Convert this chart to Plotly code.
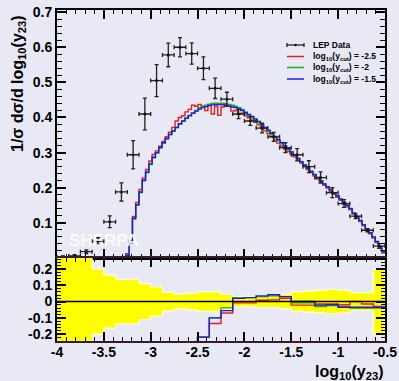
import numpy as np
import plotly.graph_objects as go

# ---------------- data ----------------
x_lo, x_hi = -4.0, -0.5
n_fine = 100
n_data = 28

data_x = [-3.9375, -3.8125, -3.6875, -3.5625, -3.4375, -3.3125, -3.1875, -3.0625,
          -2.9375, -2.8125, -2.6875, -2.5625, -2.4375, -2.3125, -2.1875, -2.0625,
          -1.9375, -1.8125, -1.6875, -1.5625, -1.4375, -1.3125, -1.1875, -1.0625,
          -0.9375, -0.8125, -0.6875, -0.5625]
data_y = [0.003, 0.006, 0.018, 0.048, 0.103, 0.188, 0.294, 0.410,
          0.505, 0.578, 0.600, 0.582, 0.540, 0.483, 0.452, 0.410,
          0.390, 0.370, 0.345, 0.314, 0.294, 0.260, 0.229, 0.186,
          0.155, 0.119, 0.079, 0.034]
data_err = [0.0027, 0.0036, 0.0054, 0.0096, 0.0168, 0.0258, 0.0403, 0.0451,
            0.0455, 0.0335, 0.0276, 0.0303, 0.0324, 0.0290, 0.0199, 0.0131,
            0.0125, 0.0137, 0.0128, 0.0141, 0.0176, 0.0169, 0.0160, 0.0140,
            0.0109, 0.0065, 0.0043, 0.0068]

mc_blue = [0, 0, 0, 0, 0, 0, 0, 0, 0, 0,
           0, 0, 0, 0, 0, 0, 0, 0, 0.001, 0.001,
           0.002, 0.008, 0.045, 0.113, 0.152, 0.188, 0.222, 0.245, 0.268, 0.287,
           0.300, 0.315, 0.328, 0.340, 0.352, 0.362, 0.372, 0.382, 0.390, 0.398,
           0.405, 0.412, 0.418, 0.424, 0.428, 0.431, 0.434, 0.436, 0.437, 0.436,
           0.437, 0.434, 0.432, 0.430, 0.428, 0.424, 0.420, 0.415, 0.409, 0.403,
           0.396, 0.389, 0.381, 0.372, 0.364, 0.355, 0.346, 0.337, 0.329, 0.320,
           0.311, 0.302, 0.293, 0.284, 0.274, 0.265, 0.256, 0.247, 0.238, 0.229,
           0.220, 0.211, 0.203, 0.194, 0.185, 0.177, 0.168, 0.159, 0.150, 0.141,
           0.128, 0.118, 0.107, 0.095, 0.083, 0.072, 0.060, 0.047, 0.033, 0.018]
mc_green = [0, 0, 0, 0, 0, 0, 0, 0, 0, 0,
            0, 0, 0, 0, 0, 0, 0, 0, 0.001, 0.001,
            0.002, 0.007, 0.043, 0.111, 0.150, 0.186, 0.220, 0.243, 0.266, 0.285,
            0.299, 0.313, 0.327, 0.339, 0.351, 0.361, 0.371, 0.381, 0.390, 0.398,
            0.406, 0.413, 0.420, 0.428, 0.432, 0.435, 0.438, 0.440, 0.441, 0.440,
            0.441, 0.439, 0.437, 0.435, 0.432, 0.428, 0.423, 0.411, 0.405, 0.399,
            0.392, 0.385, 0.377, 0.369, 0.360, 0.351, 0.343, 0.334, 0.326, 0.317,
            0.309, 0.301, 0.292, 0.283, 0.273, 0.264, 0.255, 0.246, 0.237, 0.228,
            0.219, 0.210, 0.202, 0.193, 0.184, 0.176, 0.167, 0.158, 0.149, 0.140,
            0.127, 0.117, 0.106, 0.094, 0.082, 0.071, 0.059, 0.046, 0.032, 0.017]
mc_red = [0, 0, 0, 0, 0, 0, 0, 0, 0.002, 0.002,
          0.003, 0.003, 0.003, 0.003, 0.003, 0.003, 0.003, 0.003, 0.003, 0.003,
          0.004, 0.012, 0.050, 0.118, 0.158, 0.195, 0.228, 0.252, 0.276, 0.295,
          0.305, 0.318, 0.332, 0.345, 0.358, 0.372, 0.390, 0.400, 0.405, 0.416,
          0.423, 0.435, 0.432, 0.437, 0.432, 0.420, 0.435, 0.410, 0.432, 0.406,
          0.430, 0.437, 0.432, 0.418, 0.420, 0.410, 0.412, 0.405, 0.399, 0.393,
          0.386, 0.379, 0.371, 0.362, 0.354, 0.345, 0.336, 0.327, 0.319, 0.310,
          0.303, 0.296, 0.288, 0.279, 0.270, 0.261, 0.252, 0.243, 0.234, 0.225,
          0.216, 0.207, 0.199, 0.190, 0.181, 0.173, 0.164, 0.155, 0.146, 0.137,
          0.125, 0.115, 0.104, 0.092, 0.080, 0.069, 0.057, 0.044, 0.030, 0.015]

# ratio (MC/data - 1) per data bin
ratio_blue = [-1, -1, -1, -1, -1, -0.9, -0.8, -0.6, -0.5, -0.4, -0.35, -0.3,
              -0.218, -0.100, -0.056, 0.020, 0.024, 0.035, 0.042, 0.030,
              0.000, 0.000, -0.022, -0.020, -0.035, -0.035, -0.035, -0.035]
ratio_green = [-1, -1, -1, -1, -1, -0.9, -0.8, -0.6, -0.5, -0.4, -0.35, -0.3,
               -0.218, -0.100, -0.039, 0.020, 0.024, 0.030, 0.035, 0.030,
               -0.008, -0.008, -0.030, -0.025, -0.030, -0.040, -0.040, -0.040]
ratio_red = [-1, -1, -1, -1, -1, -0.9, -0.8, -0.6, -0.5, -0.4, -0.35, -0.3,
             -0.218, -0.135, -0.070, -0.008, -0.008, 0.008, 0.010, 0.020,
             -0.022, -0.022, -0.015, -0.015, -0.020, 0.000, -0.015, -0.030]

x_ticks = [-4, -3.5, -3, -2.5, -2, -1.5, -1, -0.5]
x_ticklabels = ["-4", "-3.5", "-3", "-2.5", "-2", "-1.5", "-1", "-0.5"]
y_ticks = [0.1, 0.2, 0.3, 0.4, 0.5, 0.6, 0.7]
y_ticklabels = ["0.1", "0.2", "0.3", "0.4", "0.5", "0.6", "0.7"]
r_ticks = [-0.2, -0.1, 0, 0.1, 0.2]
r_ticklabels = ["-0.2", "-0.1", "0", "0.1", "0.2"]

legend_labels = ["LEP Data",
                 "log<sub>10</sub>(y<sub>cut</sub>) = -2.5",
                 "log<sub>10</sub>(y<sub>cut</sub>) = -2",
                 "log<sub>10</sub>(y<sub>cut</sub>) = -1.5"]
RED, GREEN, BLUE = "#ee1c1c", "#22a822", "#1c1ce6"
BG = "#e9e9f5"

# ---------------- figure ----------------
fine_edges = np.linspace(x_lo, x_hi, n_fine + 1)
data_edges = np.linspace(x_lo, x_hi, n_data + 1)
half_w = (x_hi - x_lo) / n_data / 2

fig = go.Figure()

def step(edges, vals):
    return list(edges), list(vals) + [vals[-1]]

for vals, col in [(mc_red, RED), (mc_green, GREEN), (mc_blue, BLUE)]:
    sx, sy = step(fine_edges, vals)
    fig.add_trace(go.Scatter(x=sx, y=sy, mode="lines", line=dict(color=col, width=1.4, shape="hv"),
                             xaxis="x", yaxis="y", showlegend=False, hoverinfo="skip"))

fig.add_trace(go.Scatter(x=data_x, y=data_y, mode="markers",
                         marker=dict(color="#111", size=3),
                         error_y=dict(type="data", array=data_err, color="#222", thickness=1.3, width=2),
                         error_x=dict(type="constant", value=half_w, color="#222", thickness=1.3, width=2),
                         xaxis="x", yaxis="y", showlegend=False))

# ratio band
rel = [e / v for e, v in zip(data_err, data_y)]
bx, bu, bl = [], [], []
for i in range(n_data):
    bx += [data_edges[i], data_edges[i + 1]]
    bu += [rel[i], rel[i]]
    bl += [-rel[i], -rel[i]]
fig.add_trace(go.Scatter(x=bx + bx[::-1], y=bu + bl[::-1], fill="toself", fillcolor="#ffff00",
                         mode="lines", line=dict(color="white", width=1),
                         xaxis="x2", yaxis="y2", showlegend=False, hoverinfo="skip"))

for vals, col in [(ratio_red, RED), (ratio_green, GREEN), (ratio_blue, BLUE)]:
    sx, sy = step(data_edges, vals)
    fig.add_trace(go.Scatter(x=sx, y=sy, mode="lines", line=dict(color=col, width=1.4, shape="hv"),
                             xaxis="x2", yaxis="y2", showlegend=False, hoverinfo="skip"))

tf = dict(family="Liberation Sans", size=14, color="black", weight="bold")
ax_common = dict(showline=True, linecolor="black", linewidth=2, ticks="inside",
                 tickcolor="black", tickwidth=1.5, mirror="allticks", showgrid=False,
                 zeroline=False, tickfont=tf)

split = 83 / 331
fig.update_layout(
    width=399, height=381,
    margin=dict(l=57, r=14, t=10, b=40, autoexpand=False),
    paper_bgcolor=BG, plot_bgcolor=BG,
    xaxis=dict(domain=[0, 1], anchor="y", range=[x_lo, x_hi], tickvals=x_ticks,
               showticklabels=False, ticklen=9,
               minor=dict(dtick=0.1, tick0=-4, ticklen=4, ticks="inside", tickcolor="black", tickwidth=1.2),
               **ax_common),
    yaxis=dict(domain=[split, 1], anchor="x", range=[0, 0.706], tickvals=y_ticks,
               ticktext=y_ticklabels, ticklen=9,
               minor=dict(dtick=0.02, tick0=0, ticklen=5, ticks="inside", tickcolor="black", tickwidth=1.2),
               **ax_common),
    xaxis2=dict(domain=[0, 1], anchor="y2", range=[x_lo, x_hi], tickvals=x_ticks,
                ticktext=x_ticklabels, ticklen=9, ticklabelstandoff=-3,
                minor=dict(dtick=0.1, tick0=-4, ticklen=4, ticks="inside", tickcolor="black", tickwidth=1.2),
                **{**ax_common, "linecolor": "#3a1a30"}),
    yaxis2=dict(domain=[0, split], anchor="x2", range=[-0.242, 0.267], tickvals=r_ticks,
                ticktext=r_ticklabels, ticklen=9,
                minor=dict(dtick=0.02, tick0=0, ticklen=4, ticks="inside", tickcolor="black", tickwidth=1.2),
                **ax_common),
)

# zero line in ratio panel
fig.add_shape(type="line", xref="x2", yref="y2", x0=x_lo, x1=x_hi, y0=0, y1=0,
              line=dict(color="black", width=1.5))

# titles
fig.add_annotation(text="1/σ dσ/d log<sub>10</sub>(y<sub>23</sub>)", textangle=-90,
                   xref="paper", yref="paper", x=(18 - 57) / 328, y=(341 - 84) / 331,
                   showarrow=False, xanchor="center", yanchor="middle",
                   font=dict(family="Liberation Sans", size=16, color="black", weight="bold"))
fig.add_annotation(text="log<sub>10</sub>(y<sub>23</sub>)", xref="paper", yref="paper",
                   x=1.0, y=-(31 / 331), showarrow=False, xanchor="right", yanchor="middle",
                   font=dict(family="Liberation Sans", size=16, color="black", weight="bold"))

# watermark
fig.add_annotation(text="SHERPA", xref="paper", yref="paper", x=(67 - 57) / 328, y=(341 - 240) / 331,
                   showarrow=False, xanchor="left", yanchor="middle",
                   font=dict(family="Liberation Sans", size=17, color="white", weight="bold"), opacity=0.85)

# legend (manual)
def px2paper(px, py):
    return (px - 57) / 328, (341 - py) / 331

leg_rows = [45, 56.5, 67.5, 79]
leg_cols = ["#111", RED, GREEN, BLUE]
for i, (lab, col, py) in enumerate(zip(legend_labels, leg_cols, leg_rows)):
    x0, y0 = px2paper(287, py)
    x1, _ = px2paper(304, py)
    fig.add_shape(type="line", xref="paper", yref="paper", x0=x0, x1=x1, y0=y0, y1=y0,
                  line=dict(color=col, width=1.5 if i else 1.2))
    if i == 0:
        for xx in (287, 304):
            xa, ya0 = px2paper(xx, py - 2)
            _, ya1 = px2paper(xx, py + 2)
            fig.add_shape(type="line", xref="paper", yref="paper", x0=xa, x1=xa, y0=ya0, y1=ya1,
                          line=dict(color=col, width=1.2))
        xc, yc = px2paper(295.5, py)
        fig.add_shape(type="circle", xref="paper", yref="paper", x0=xc - 0.004, x1=xc + 0.004,
                      y0=yc - 0.004, y1=yc + 0.004, fillcolor=col, line=dict(width=0))
    tx, ty = px2paper(311, py)
    fig.add_annotation(text=lab, xref="paper", yref="paper", x=tx, y=ty, showarrow=False,
                       xanchor="left", yanchor="middle",
                       font=dict(family="Liberation Sans", size=8.5, color="black", weight="bold"))

fig.write_html("out.html", config={"displayModeBar": False},
               post_script="document.body.style.margin='0';document.body.style.background='%s';" % BG)
